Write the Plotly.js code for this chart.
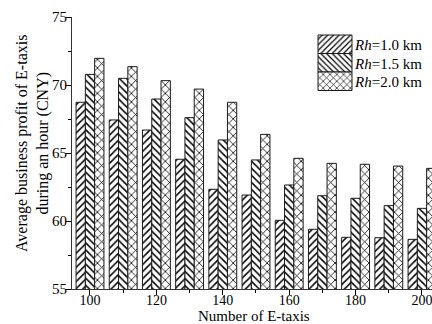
<!DOCTYPE html>
<html>
<head>
<meta charset="utf-8">
<script src="https://cdn.plot.ly/plotly-3.0.1.min.js"></script>
<style>
  html, body { margin: 0; padding: 0; overflow: hidden; background: #fff; }
  #chart { width: 480px; height: 324px; }
</style>
</head>
<body>
<div id="chart"></div>
<script>
// Data
const numTaxis = [100, 110, 120, 130, 140, 150, 160, 170, 180, 190, 200];
const profitRh10 = [68.73, 67.43, 66.69, 64.54, 62.33, 61.91, 60.05, 59.39, 58.80, 58.77, 58.65];
const profitRh15 = [70.78, 70.49, 68.97, 67.60, 65.96, 64.49, 62.65, 61.86, 61.67, 61.13, 60.93];
const profitRh20 = [71.96, 71.35, 70.32, 69.70, 68.73, 66.37, 64.61, 64.24, 64.17, 64.04, 63.87];
const seriesNames = ['<i>Rh</i>=1.0 km', '<i>Rh</i>=1.5 km', '<i>Rh</i>=2.0 km'];
const xTickVals = [100, 120, 140, 160, 180, 200];
const yTickVals = [55, 60, 65, 70, 75];

const FONT = 'Liberation Serif, Times New Roman, serif';
const outline = { color: '#1a1a1a', width: 1 };

function barTrace(y, name, shape, size, solidity) {
  return {
    type: 'bar', x: numTaxis, y: y, name: name,
    marker: {
      color: '#ffffff', line: outline,
      pattern: { shape: shape, fgcolor: '#000000', bgcolor: '#ffffff', size: size, solidity: solidity, fillmode: 'replace' }
    },
    hoverinfo: 'skip'
  };
}

const data = [
  barTrace(profitRh10, seriesNames[0], '/', 5, 0.3),
  barTrace(profitRh15, seriesNames[1], '\\', 5, 0.3),
  barTrace(profitRh20, seriesNames[2], 'x', 6, 0.25)
];

const plotW = 480 - 72 - 10;
const layout = {
  width: 480, height: 324,
  margin: { l: 72, r: 10, t: 17, b: 35 },
  paper_bgcolor: '#fff', plot_bgcolor: '#fff',
  font: { family: FONT, color: '#000', size: 14 },
  barmode: 'group', bargap: 0.16, bargroupgap: 0,
  showlegend: true,
  legend: {
    x: (305 - 72) / plotW, y: 1 - (28 - 17) / 272, xanchor: 'left', yanchor: 'top',
    bgcolor: 'rgba(0,0,0,0)', borderwidth: 0,
    font: { family: FONT, size: 15, color: '#000' },
    itemwidth: 40, tracegroupgap: 0
  },
  xaxis: {
    range: [94.58, 94.58 + plotW / 3.32],
    tickvals: xTickVals, ticktext: xTickVals.map(String),
    ticks: 'outside', ticklen: 5, tickwidth: 1, tickcolor: '#000',
    minor: { dtick: 10, tick0: 100, ticks: 'outside', ticklen: 3, tickwidth: 1, tickcolor: '#000', showgrid: false },
    showline: true, linecolor: '#333', linewidth: 1,
    showgrid: false, zeroline: false, ticklabelstandoff: -7,
    tickfont: { family: FONT, size: 14, color: '#000' }
  },
  xaxis2: {
    overlaying: 'x', side: 'top', anchor: 'y',
    range: [0, plotW / 36.67], tick0: 0, dtick: 2,
    ticks: 'inside', ticklen: 5, tickwidth: 1, tickcolor: '#000',
    minor: { dtick: 1, tick0: 0, ticks: 'inside', ticklen: 3, tickwidth: 1, tickcolor: '#000', showgrid: false },
    showticklabels: false, showline: true, linecolor: '#333', linewidth: 1,
    showgrid: false, zeroline: false
  },
  yaxis: {
    range: [55, 75], tickvals: yTickVals, ticktext: yTickVals.map(String),
    ticks: 'outside', ticklen: 5, tickwidth: 1, tickcolor: '#000',
    minor: { dtick: 2.5, tick0: 55, ticks: 'outside', ticklen: 3, tickwidth: 1, tickcolor: '#000', showgrid: false },
    showline: true, linecolor: '#333', linewidth: 1,
    showgrid: false, zeroline: false, ticklabelstandoff: -4,
    tickfont: { family: FONT, size: 15, color: '#000' }
  },
  annotations: [{
    text: 'Number of E-taxis', xref: 'paper', yref: 'paper',
    x: (254 - 72) / plotW, y: -(315.5 - 289) / 272, xanchor: 'center', yanchor: 'middle',
    showarrow: false, font: { family: FONT, size: 15, color: '#000' }
  }, {
    text: 'Average business profit of E-taxis<br>during an hour (CNY)', xref: 'paper', yref: 'paper',
    x: (32 - 72) / plotW, y: (289 - 144) / 272, xanchor: 'center', yanchor: 'middle', textangle: -90,
    showarrow: false, font: { family: FONT, size: 16, color: '#000' }
  }]
};

function fixLegend(gd) {
  const groups = gd.querySelectorAll('.legend g.traces');
  if (!groups.length) return;
  const m = /translate\(\s*([-\d.]+)[ ,]+([-\d.]+)\s*\)/.exec(groups[0].getAttribute('transform') || '');
  const x0 = m ? parseFloat(m[1]) : 0;
  const y0 = m ? parseFloat(m[2]) : 0;
  groups.forEach(function (g, i) {
    g.setAttribute('transform', 'translate(' + x0 + ',' + (y0 + i * 18.5) + ')');
    g.querySelectorAll('g.legendpoints path').forEach(function (p) {
      p.setAttribute('d', 'M22,9.25H-12V-9.25H22Z');
    });
  });
}

Plotly.newPlot('chart', data, layout, { staticPlot: true, displayModeBar: false }).then(function (gd) {
  fixLegend(gd);
  gd.on('plotly_afterplot', function () { fixLegend(gd); });
  setTimeout(function () { fixLegend(gd); }, 50);
});
</script>
</body>
</html>
